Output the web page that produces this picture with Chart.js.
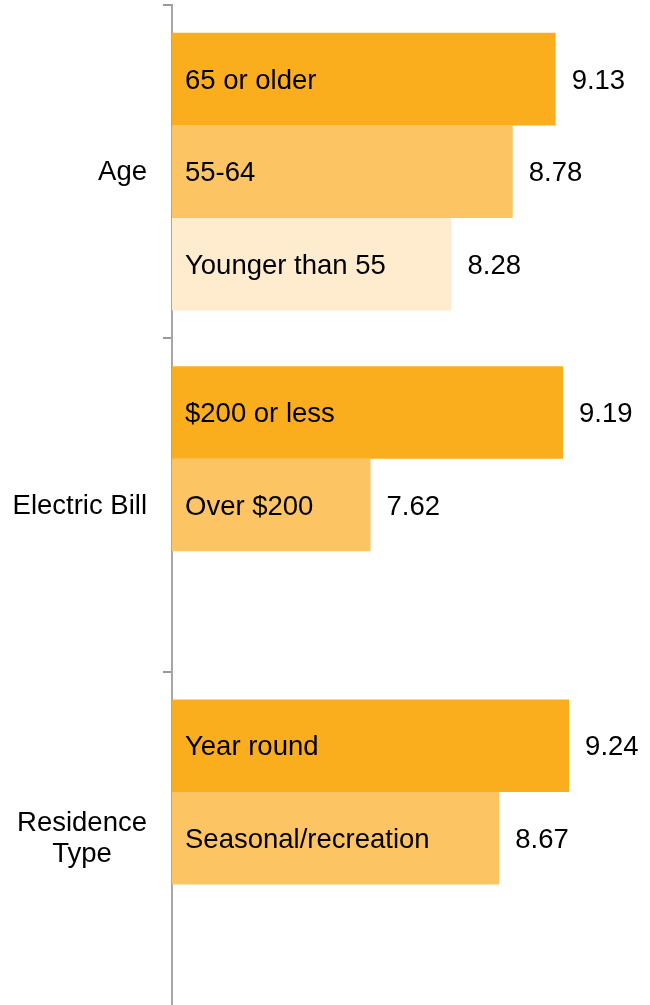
<!DOCTYPE html>
<html>
<head>
<meta charset="utf-8">
<script src="https://cdn.jsdelivr.net/npm/chart.js@4.4.1/dist/chart.umd.min.js"></script>
<style>
  html, body { margin: 0; padding: 0; background: #ffffff; }
  #wrap { position: relative; width: 650px; height: 1005px; }
</style>
</head>
<body>
<div id="wrap"><canvas id="c"></canvas></div>
<script>
// ---- data ----
const categories = ['Age', 'Electric Bill', ['Residence', 'Type']];
const series1Values = [9.13, 9.19, 9.24];
const series2Values = [8.78, 7.62, 8.67];
const series3Values = [8.28, null, null];
const series1Names = ['65 or older', '$200 or less', 'Year round'];
const series2Names = ['55-64', 'Over $200', 'Seasonal/recreation'];
const series3Names = ['Younger than 55', '', ''];
const valueLabels1 = ['9.13', '9.19', '9.24'];
const valueLabels2 = ['8.78', '7.62', '8.67'];
const valueLabels3 = ['8.28', '', ''];

const allNames = [series1Names, series2Names, series3Names];
const allValueLabels = [valueLabels1, valueLabels2, valueLabels3];

const FONT = '"Liberation Sans", Arial, Helvetica, sans-serif';
const FSIZE = 27.5;

const labelPlugin = {
  id: 'barTexts',
  afterDatasetsDraw(chart) {
    const ctx = chart.ctx;
    ctx.save();
    ctx.font = FSIZE + 'px ' + FONT;
    ctx.fillStyle = '#000000';
    ctx.textBaseline = 'middle';
    chart.data.datasets.forEach((ds, di) => {
      const meta = chart.getDatasetMeta(di);
      meta.data.forEach((bar, i) => {
        if (ds.data[i] == null) return;
        const p = bar.getProps(['x', 'y', 'base'], true);
        ctx.textAlign = 'left';
        const nm = allNames[di][i];
        if (nm) ctx.fillText(nm, chart.chartArea.left + 13, p.y + 2);
        ctx.fillText(allValueLabels[di][i], p.x + 16, p.y + 2);
      });
    });
    // category labels
    const ys = chart.scales.y;
    const rightX = 147;
    categories.forEach((lab, i) => {
      const y = ys.getPixelForValue(i);
      if (Array.isArray(lab)) {
        const lh = 31;
        const widest = Math.max(...lab.map(l => ctx.measureText(l).width));
        ctx.textAlign = 'center';
        const cx = rightX - widest / 2;
        const y0 = y - (lab.length - 1) * lh / 2 + 1;
        lab.forEach((l, k) => ctx.fillText(l, cx, y0 + k * lh));
      } else {
        ctx.textAlign = 'right';
        ctx.fillText(lab, rightX, y + 1);
      }
    });
    ctx.restore();
  }
};

new Chart(document.getElementById('c'), {
  type: 'bar',
  data: {
    labels: categories,
    datasets: [
      { data: series1Values, backgroundColor: '#FBAE1D' },
      { data: series2Values, backgroundColor: '#FDC463' },
      { data: series3Values, backgroundColor: '#FFEBCD' }
    ]
  },
  options: {
    indexAxis: 'y',
    responsive: true,
    maintainAspectRatio: false,
    animation: false,
    layout: { padding: { top: 5, right: 0, bottom: 0, left: 0 } },
    plugins: { legend: { display: false }, tooltip: { enabled: false } },
    datasets: { bar: { categoryPercentage: 0.833, barPercentage: 1.0, borderWidth: 0, skipNull: false } },
    scales: {
      x: { display: false, min: 6, max: 9.9 },
      y: {
        display: true,
        ticks: { display: false },
        grid: {
          display: true, drawOnChartArea: false, drawTicks: true, tickLength: 9,
          color: '#999999',
          tickColor: (c) => (c.type === 'tick' ? '#999999' : 'rgba(0,0,0,0)'),
          lineWidth: 2, offset: true
        },
        border: { display: true, color: '#a6a6a6', width: 2 },
        afterFit(scale) { scale.width = 172; }
      }
    }
  },
  plugins: [labelPlugin]
});
</script>
</body>
</html>
